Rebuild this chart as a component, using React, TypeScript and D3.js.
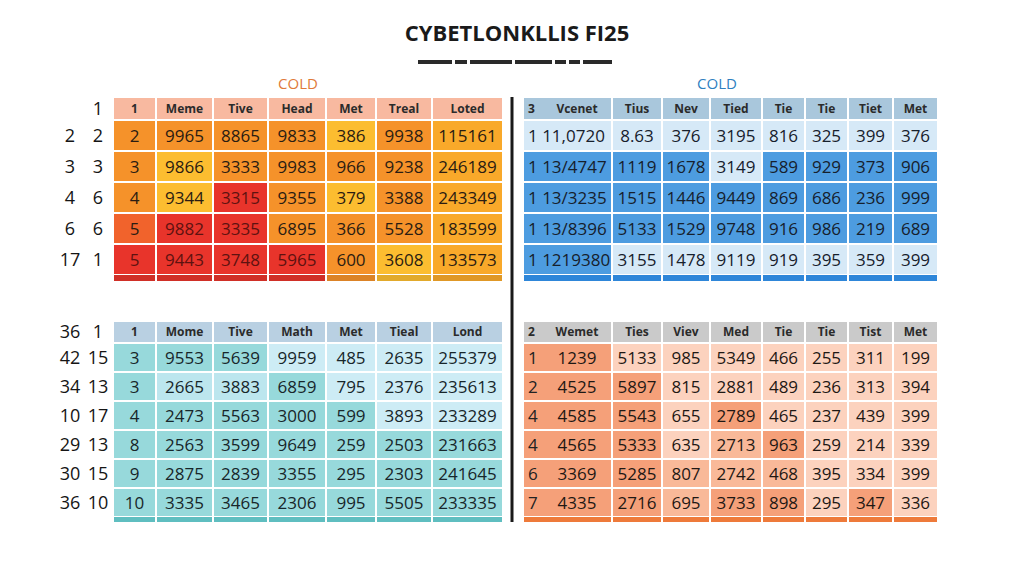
import React, { useEffect } from "react";
import * as d3 from "d3";

const title = "CYBETLONKLLIS FI25";
const groupLabel = "COLD";

// top left block (warm heat colours)
const tlHeaders = ["1", "Meme", "Tive", "Head", "Met", "Treal", "Loted"];
const tlHeadA = "";
const tlHeadB = "1";
const tlLabelA = ["2", "3", "4", "6", "17"];
const tlLabelB = ["2", "3", "6", "6", "1"];
const tlRows = [
  ["2", "9965", "8865", "9833", "386", "9938", "115161"],
  ["3", "9866", "3333", "9983", "966", "9238", "246189"],
  ["4", "9344", "3315", "9355", "379", "3388", "243349"],
  ["5", "9882", "3335", "6895", "366", "5528", "183599"],
  ["5", "9443", "3748", "5965", "600", "3608", "133573"],
];
// 0 yellow, 1 amber, 2 orange, 3 red-orange, 4 red
const tlShade = [
  [2, 2, 2, 2, 0, 2, 1],
  [2, 0, 2, 2, 2, 2, 1],
  [2, 0, 4, 2, 0, 2, 1],
  [3, 4, 4, 2, 2, 2, 1],
  [4, 4, 4, 4, 2, 0, 1],
];

// top right block (blues)
const trHeaders = ["Vcenet", "Tius", "Nev", "Tied", "Tie", "Tie", "Tiet", "Met"];
const trHeadIndex = "3";
const trRows = [
  ["1 11,0720", "8.63", "376", "3195", "816", "325", "399", "376"],
  ["1 13/4747", "1119", "1678", "3149", "589", "929", "373", "906"],
  ["1 13/3235", "1515", "1446", "9449", "869", "686", "236", "999"],
  ["1 13/8396", "5133", "1529", "9748", "916", "986", "219", "689"],
  ["1 1219380", "3155", "1478", "9119", "919", "395", "359", "399"],
];
const trShade = [
  [0, 0, 0, 0, 0, 0, 0, 0],
  [1, 1, 1, 0, 1, 1, 1, 1],
  [1, 1, 1, 1, 1, 1, 1, 1],
  [1, 1, 1, 1, 1, 1, 1, 1],
  [1, 0, 0, 0, 0, 0, 0, 0],
];

// bottom left block (teals)
const blHeaders = ["1", "Mome", "Tive", "Math", "Met", "Tieal", "Lond"];
const blHeadA = "36";
const blHeadB = "1";
const blLabelA = ["42", "34", "10", "29", "30", "36"];
const blLabelB = ["15", "13", "17", "13", "15", "10"];
const blRows = [
  ["3", "9553", "5639", "9959", "485", "2635", "255379"],
  ["3", "2665", "3883", "6859", "795", "2376", "235613"],
  ["4", "2473", "5563", "3000", "599", "3893", "233289"],
  ["8", "2563", "3599", "9649", "259", "2503", "231663"],
  ["9", "2875", "2839", "3355", "295", "2303", "241645"],
  ["10", "3335", "3465", "2306", "995", "5505", "233335"],
];
const blShade = [
  [2, 2, 2, 0, 0, 0, 0],
  [2, 1, 1, 2, 0, 0, 0],
  [2, 2, 2, 2, 2, 0, 0],
  [2, 2, 2, 2, 2, 2, 2],
  [2, 2, 2, 2, 2, 2, 2],
  [2, 2, 2, 2, 2, 2, 2],
];

// bottom right block (salmon)
const brHeaders = ["Wemet", "Ties", "Viev", "Med", "Tie", "Tie", "Tist", "Met"];
const brHeadIndex = "2";
const brIndex = ["1", "2", "4", "4", "6", "7"];
const brRows = [
  ["1239", "5133", "985", "5349", "466", "255", "311", "199"],
  ["4525", "5897", "815", "2881", "489", "236", "313", "394"],
  ["4585", "5543", "655", "2789", "465", "237", "439", "399"],
  ["4565", "5333", "635", "2713", "963", "259", "214", "339"],
  ["3369", "5285", "807", "2742", "468", "395", "334", "399"],
  ["4335", "2716", "695", "3733", "898", "295", "347", "336"],
];
const brShade = [
  [2, 0, 0, 0, 0, 0, 0, 0],
  [2, 2, 0, 0, 0, 0, 0, 0],
  [2, 2, 0, 2, 0, 0, 0, 0],
  [2, 2, 0, 1, 2, 0, 0, 0],
  [2, 2, 1, 1, 1, 0, 0, 0],
  [2, 2, 1, 2, 2, 0, 2, 0],
];

const FONT = "'Open Sans', 'Noto Sans', sans-serif";

type TableProps = {
  edges: number[];
  top: number;
  headH: number;
  rowH: number;
  stripH: number;
  headers: string[];
  rows: string[][];
  shades: number[][];
  palette: string[];
  headFill: string;
  stripFill: (j: number) => string;
  textFill: (s: number) => string;
  headIndex?: string;
  index?: string[];
  leftFirst?: boolean;
  firstCenter?: number;
};

const Table = (p: TableProps) => {
  const n = p.rows.length;
  const y = d3
    .scaleBand<number>()
    .domain(d3.range(n))
    .range([p.top + p.headH, p.top + p.headH + p.rowH * n]);
  const color = d3.scaleOrdinal<number, string>().domain(d3.range(p.palette.length)).range(p.palette);
  const cols = d3.range(p.edges.length - 1);
  const cx = (j: number) => (p.edges[j] + p.edges[j + 1]) / 2;
  const bottom = p.top + p.headH + p.rowH * n;
  return (
    <g>
      {cols.map((j) => (
        <rect
          key={"h" + j}
          x={p.edges[j] + 1}
          y={p.top + 1}
          width={p.edges[j + 1] - p.edges[j] - 2}
          height={p.headH - 2}
          fill={p.headFill}
        />
      ))}
      {p.headIndex !== undefined && (
        <text x={p.edges[0] + 5} y={p.top + p.headH / 2 + 4} fontSize={12} fontWeight="bold" fill="#2b2b2b" fontFamily={FONT}>
          {p.headIndex}
        </text>
      )}
      {p.headers.map((h, j) => (
        <text
          key={"ht" + j}
          x={j === 0 && p.firstCenter !== undefined ? p.firstCenter : cx(j)}
          y={p.top + p.headH / 2 + 4}
          textAnchor="middle"
          fontSize={12}
          fontWeight="bold"
          fill="#2b2b2b"
          fontFamily={FONT}
        >
          {h}
        </text>
      ))}
      {p.rows.map((row, i) =>
        row.map((v, j) => {
          const s = p.shades[i][j];
          return (
            <g key={i + "-" + j}>
              <rect
                x={p.edges[j] + 1}
                y={(y(i) as number) + 1}
                width={p.edges[j + 1] - p.edges[j] - 2}
                height={y.bandwidth() - 2}
                fill={color(s)}
              />
              <text
                x={j === 0 && p.leftFirst ? p.edges[0] + 5 : j === 0 && p.firstCenter !== undefined ? p.firstCenter : cx(j)}
                y={(y(i) as number) + y.bandwidth() / 2 + 6}
                textAnchor={j === 0 && p.leftFirst ? "start" : "middle"}
                fontSize={17}
                fill={p.textFill(s)}
                fontFamily={FONT}
              >
                {v}
              </text>
            </g>
          );
        })
      )}
      {p.index &&
        p.index.map((v, i) => (
          <text
            key={"ix" + i}
            x={p.edges[0] + 5}
            y={(y(i) as number) + y.bandwidth() / 2 + 6}
            fontSize={17}
            fill="#222"
            fontFamily={FONT}
          >
            {v}
          </text>
        ))}
      {cols.map((j) => (
        <rect
          key={"s" + j}
          x={p.edges[j] + 1}
          y={bottom}
          width={p.edges[j + 1] - p.edges[j] - 2}
          height={p.stripH}
          fill={p.stripFill(j)}
        />
      ))}
    </g>
  );
};

const RowLabels = ({ top, headH, rowH, headA, headB, a, b }: any) => {
  const y = d3
    .scaleBand<number>()
    .domain(d3.range(a.length))
    .range([top + headH, top + headH + rowH * a.length]);
  const props = { fontSize: 18, fill: "#151515", fontFamily: FONT, textAnchor: "middle" as const };
  return (
    <g>
      <text x={70} y={top + headH / 2 + 6} {...props}>{headA}</text>
      <text x={98} y={top + headH / 2 + 6} {...props}>{headB}</text>
      {a.map((v: string, i: number) => (
        <g key={i}>
          <text x={70} y={(y(i) as number) + y.bandwidth() / 2 + 6} {...props}>{v}</text>
          <text x={98} y={(y(i) as number) + y.bandwidth() / 2 + 6} {...props}>{b[i]}</text>
        </g>
      ))}
    </g>
  );
};

export default function App() {
  useEffect(() => {
    document.body.style.margin = "0";
  }, []);

  const leftEdges = [113, 156, 213, 268, 326, 376, 432, 503];
  const rightEdges = [523, 612, 662, 710, 762, 805, 848, 893, 938];
  const warm = ["#fcbd30", "#f9a92a", "#f5922a", "#f1632c", "#e8342b"];
  const dashes = [34, 12, 42, 37, 11, 11, 29];
  const dashX = d3.cumsum([418, ...dashes.map((d) => d + 3)]);

  return (
    <svg width={1024} height={585} style={{ display: "block", background: "#fff" }}>
      <text x={517} y={41} textAnchor="middle" fontSize={22} fontWeight="bold" fill="#1a1a1a" fontFamily={FONT}>
        {title}
      </text>
      {dashes.map((w, i) => (
        <rect key={i} x={dashX[i]} y={60} width={w} height={4} fill="#2a2a2a" />
      ))}

      <text x={298} y={89} textAnchor="middle" fontSize={15} fill="#e07a3a" fontFamily={FONT}>{groupLabel}</text>
      <text x={717} y={89} textAnchor="middle" fontSize={15} fill="#2f7fbf" fontFamily={FONT}>{groupLabel}</text>

      <RowLabels top={97} headH={23} rowH={31} headA={tlHeadA} headB={tlHeadB} a={tlLabelA} b={tlLabelB} />
      <Table
        edges={leftEdges}
        top={97}
        headH={23}
        rowH={31}
        stripH={6}
        headers={tlHeaders}
        rows={tlRows}
        shades={tlShade}
        palette={warm}
        headFill="#f8b9a0"
        stripFill={(j) => d3.color(warm[tlShade[tlShade.length - 1][j]])!.darker(0.3).formatHex()}
        textFill={(s) => (s === 4 ? "#5e1210" : "#2a1c12")}
      />

      <Table
        edges={rightEdges}
        top={97}
        headH={23}
        rowH={31}
        stripH={6}
        headers={trHeaders}
        headIndex={trHeadIndex}
        firstCenter={577}
        leftFirst
        rows={trRows}
        shades={trShade}
        palette={["#d6e9f7", "#4d9ce0"]}
        headFill="#a9c7dc"
        stripFill={() => "#2e86d9"}
        textFill={() => "#16202c"}
      />

      <RowLabels top={321} headH={22} rowH={29} headA={blHeadA} headB={blHeadB} a={blLabelA} b={blLabelB} />
      <Table
        edges={leftEdges}
        top={321}
        headH={22}
        rowH={29}
        stripH={5}
        headers={blHeaders}
        rows={blRows}
        shades={blShade}
        palette={["#cdecf5", "#bce6ee", "#97d9db"]}
        headFill="#b9d0e2"
        stripFill={() => "#5fbec0"}
        textFill={() => "#17262a"}
      />

      <Table
        edges={rightEdges}
        top={321}
        headH={22}
        rowH={29}
        stripH={5}
        headers={brHeaders}
        headIndex={brHeadIndex}
        firstCenter={577}
        index={brIndex}
        rows={brRows}
        shades={brShade}
        palette={["#fcd2be", "#f9b999", "#f5a079"]}
        headFill="#cacaca"
        stripFill={() => "#ee7a3a"}
        textFill={() => "#1f1814"}
      />

      <line x1={512} x2={512} y1={97} y2={522} stroke="#1a1a1a" strokeWidth={3} />
    </svg>
  );
}
